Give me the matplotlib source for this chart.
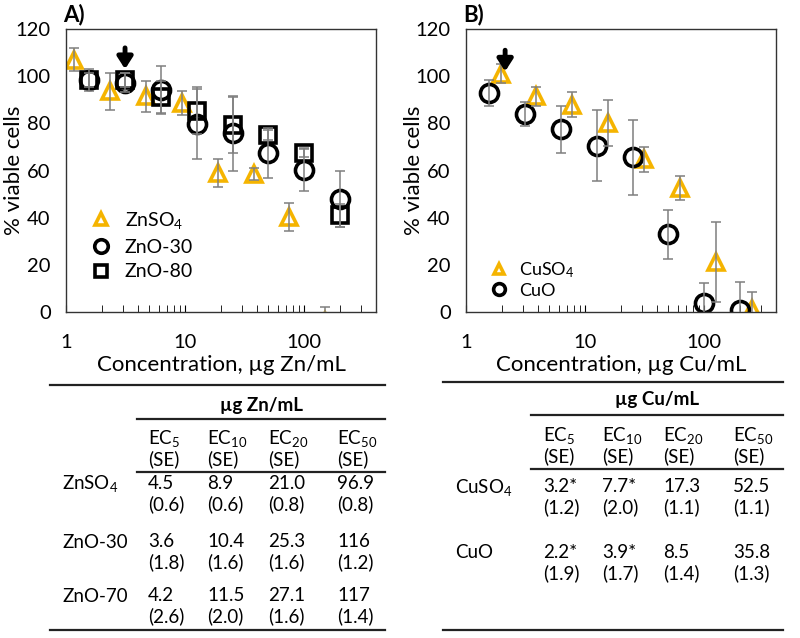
import matplotlib
matplotlib.use("Agg")
import matplotlib.pyplot as plt
from matplotlib.lines import Line2D

plt.rcParams['font.family'] = ['Lato', 'DejaVu Sans']
plt.rcParams['mathtext.fontset'] = 'custom'
plt.rcParams['mathtext.rm'] = 'Lato'
plt.rcParams['mathtext.it'] = 'Lato:italic'
plt.rcParams['mathtext.bf'] = 'Lato:bold'

ORANGE = '#f5b400'
GRAY = '#7f7f7f'

# ---- Panel A data (Zn) ----
zn_sulf_x = [1.17, 2.34, 4.69, 9.38, 18.75, 37.5, 75, 150]
zn_sulf_y = [107, 93.5, 91.4, 88.5, 59, 58.4, 40.4, -4]
zn_sulf_err = [5, 8, 6.5, 5, 6, 2.5, 6, 6]

zno30_x = [1.56, 3.13, 6.25, 12.5, 25, 50, 100, 200]
zno30_y = [98.4, 97.3, 94.2, 79.7, 75.8, 67.3, 60.2, 47.9]
zno30_err = [4.8, 4, 10, 15, 16, 10.6, 9, 12]

zno80_x = [1.56, 3.13, 6.25, 12.5, 25, 50, 100, 200]
zno80_y = [98.4, 98.4, 91, 85.3, 79.3, 75, 67.6, 41]
zno80_err = [3, 3, 7, 10, 12, 2, 2, 5]

zn_arrow = (3.13, 103, 112)

# ---- Panel B data (Cu) ----
cu_sulf_x = [1.95, 3.9, 7.8, 15.6, 31.25, 62.5, 125, 250]
cu_sulf_y = [101, 91.4, 87.8, 80.3, 64.7, 52.7, 21.2, 1.4]
cu_sulf_err = [4, 4, 5.3, 9.7, 5.3, 5, 17, 7]

cuo_x = [1.56, 3.13, 6.25, 12.5, 25, 50, 100, 200]
cuo_y = [92.8, 84, 77.5, 70.5, 65.6, 32.9, 3.8, 1.0]
cuo_err = [5.5, 5, 10, 15, 16, 10.3, 8.5, 11.7]

cu_arrow = (2.13, 102, 111)

# ---- Table data ----
ec_headers = ['EC$_5$\n(SE)', 'EC$_{10}$\n(SE)', 'EC$_{20}$\n(SE)', 'EC$_{50}$\n(SE)']
zn_rows = ['ZnSO$_4$', 'ZnO-30', 'ZnO-70']
zn_vals = [['4.5\n(0.6)', '8.9\n(0.6)', '21.0\n(0.8)', '96.9\n(0.8)'],
           ['3.6\n(1.8)', '10.4\n(1.6)', '25.3\n(1.6)', '116\n(1.2)'],
           ['4.2\n(2.6)', '11.5\n(2.0)', '27.1\n(1.6)', '117\n(1.4)']]
cu_rows = ['CuSO$_4$', 'CuO']
cu_vals = [['3.2*\n(1.2)', '7.7*\n(2.0)', '17.3\n(1.1)', '52.5\n(1.1)'],
           ['2.2*\n(1.9)', '3.9*\n(1.7)', '8.5\n(1.4)', '35.8\n(1.3)']]

W, H = 800, 638
fig = plt.figure(figsize=(W / 100, H / 100), dpi=100)


def px_axes(left, top, right, bottom):
    return fig.add_axes([left / W, 1 - bottom / H, (right - left) / W, (bottom - top) / H])


def style_ax(ax, unit):
    ax.set_xscale('log')
    ax.set_xlim(1, 400)
    ax.set_ylim(0, 120)
    ax.set_yticks(range(0, 121, 20))
    ax.tick_params(axis='y', length=0, labelsize=14.5, pad=11)
    ax.tick_params(axis='x', which='both', direction='in', length=5, labelsize=14.5, pad=16)
    ax.set_xticks([1, 10, 100])
    ax.set_xticklabels(['1', '10', '100'])
    for s in ax.spines.values():
        s.set_linewidth(1.0)
        s.set_color('#333333')
    ax.set_ylabel('% viable cells', fontsize=16)
    ax.yaxis.set_label_coords(-0.135, 0.5)
    ax.set_xlabel('Concentration, µg ' + unit + '/mL', fontsize=16, labelpad=3)


def series(ax, x, y, err, marker, color, ms, label):
    ax.errorbar(x, y, yerr=err, fmt='none', ecolor=GRAY, elinewidth=1.1,
                capsize=3.5, capthick=1.1, zorder=3)
    ax.plot(x, y, linestyle='none', marker=marker, ms=ms, mfc='none',
            mec=color, mew=2.6, label=label, zorder=2)


def arrow(ax, a):
    ax.annotate('', xy=(a[0], a[1]), xytext=(a[0], a[2]),
                arrowprops=dict(arrowstyle='-|>,head_width=0.45,head_length=0.7',
                                color='black', lw=3.5, shrinkA=0, shrinkB=0), zorder=5)


# Panel A
axA = px_axes(66, 29, 376, 312)
series(axA, zn_sulf_x, zn_sulf_y, zn_sulf_err, '^', ORANGE, 12, 'ZnSO$_4$')
series(axA, zno30_x, zno30_y, zno30_err, 'o', 'black', 13, 'ZnO-30')
series(axA, zno80_x, zno80_y, zno80_err, 's', 'black', 11, 'ZnO-80')
arrow(axA, zn_arrow)
style_ax(axA, 'Zn')
axA.legend(loc='lower left', bbox_to_anchor=(0.02, 0.05), frameon=False, fontsize=14,
           markerscale=0.75, handlelength=1.2, handletextpad=0.6, labelspacing=0.4)
fig.text(63 / W, 1 - 15 / H, 'A)', fontsize=16, fontweight='bold', va='center', ha='left')

# Panel B
axB = px_axes(466, 29, 776, 312)
series(axB, cu_sulf_x, cu_sulf_y, cu_sulf_err, '^', ORANGE, 12, 'CuSO$_4$')
series(axB, cuo_x, cuo_y, cuo_err, 'o', 'black', 13, 'CuO')
arrow(axB, cu_arrow)
style_ax(axB, 'Cu')
axB.legend(loc='lower left', bbox_to_anchor=(0.02, -0.01), frameon=False, fontsize=13,
           markerscale=0.65, handlelength=1.2, handletextpad=0.5, labelspacing=0.15)
fig.text(463 / W, 1 - 15 / H, 'B)', fontsize=16, fontweight='bold', va='center', ha='left')

# Tables drawn in pixel coordinates
axT = fig.add_axes([0, 0, 1, 1], zorder=-1)
axT.set_xlim(0, W)
axT.set_ylim(H, 0)
axT.axis('off')

FS = 13.5


def hline(x0, x1, y, lw=1.6):
    axT.add_line(Line2D([x0, x1], [y, y], color='#222222', lw=lw))


def table(x_left, x_sub, x_right, y_top, y_unit, y_sub, y_head, y_line2,
          unit, rows, vals, row_y, label_x, col_x):
    hline(x_left, x_right, y_top)
    axT.text((x_sub + x_right) / 2, y_unit, 'µg ' + unit + '/mL', fontsize=FS,
             fontweight='bold', ha='center', va='center')
    hline(x_sub, x_right, y_sub)
    for cx, h in zip(col_x, ec_headers):
        axT.text(cx, y_head, h, fontsize=FS, ha='left', va='center', linespacing=1.1)
    hline(x_sub, x_right, y_line2)
    for ry, name, rv in zip(row_y, rows, vals):
        axT.text(label_x, ry - 10, name, fontsize=FS, ha='left', va='center')
        for cx, v in zip(col_x, rv):
            axT.text(cx, ry, v, fontsize=FS, ha='left', va='center', linespacing=1.2)
    hline(x_left, x_right, 630)


table(50, 137, 385, 385, 405, 419, 448, 472, 'Zn', zn_rows, zn_vals,
      [494, 552, 606], 62, [148, 207, 268, 337])
table(443, 531, 783, 382, 400, 415, 445, 469, 'Cu', cu_rows, cu_vals,
      [497, 563], 455, [543, 602, 663, 733])

fig.savefig('out.png', dpi=100)
